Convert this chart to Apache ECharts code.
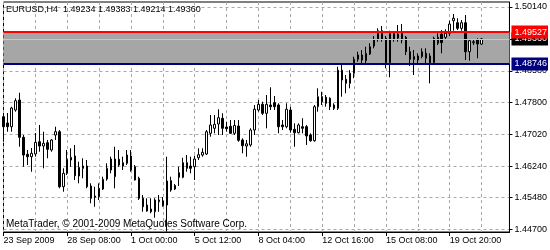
<!DOCTYPE html>
<html><head><meta charset="utf-8">
<script src="https://cdn.jsdelivr.net/npm/echarts@6/dist/echarts.min.js"></script>
<style>html,body{margin:0;padding:0;background:#fff}#c{width:550px;height:250px}</style>
</head><body><div id="c"></div>
<script>
const symbolName = 'EURUSD,H4';
const copyrightText = 'MetaTrader, \u00A9 2001-2009 MetaQuotes Software Corp.';

const opens = [1.47458,1.47304,1.47213,1.47621,1.47866,1.46954,1.46538,1.46480,1.46546,1.46846,
1.46741,1.46822,1.46644,1.47010,1.47091,1.45746,1.46074,1.46399,1.46497,1.46008,
1.46252,1.46252,1.45763,1.45519,1.45502,1.45690,1.45934,1.46423,1.45991,1.46416,
1.46252,1.46318,1.46497,1.46235,1.45952,1.45463,1.45299,1.45201,1.45135,1.45379,
1.45397,1.45299,1.45893,1.45690,1.46089,1.45976,1.46333,1.46252,1.46235,1.46455,
1.46521,1.46546,1.47052,1.47174,1.47279,1.47419,1.47206,1.47223,1.47052,1.47230,
1.46888,1.46741,1.46766,1.47132,1.47621,1.47761,1.47541,1.47744,1.47800,1.47744,
1.47255,1.47213,1.47621,1.47150,1.47066,1.47213,1.47213,1.47010,1.46871,1.47702,
1.47947,1.47932,1.47908,1.47744,1.47663,1.48355,1.48372,1.48274,1.48519,1.48861,
1.48966,1.48827,1.48991,1.49186,1.49350,1.49560,1.49375,1.48778,1.49497,1.49375,
1.49536,1.49399,1.49047,1.48925,1.48844,1.48925,1.49008,1.48942,1.48778,1.49252,
1.49480,1.49399,1.49497,1.49805,1.49756,1.49619,1.49756,1.49047,1.49267,1.49333,
1.49234];
const highs = [1.47499,1.47548,1.47702,1.47908,1.48044,1.47010,1.46643,1.46692,1.47059,1.47255,
1.47091,1.46888,1.46912,1.47213,1.47132,1.46196,1.46643,1.46685,1.46766,1.46357,
1.46441,1.46399,1.45829,1.45746,1.45829,1.45991,1.46318,1.46480,1.46724,1.46643,
1.46480,1.46643,1.46643,1.46277,1.45991,1.45543,1.45463,1.45463,1.45463,1.45543,
1.45494,1.46480,1.45991,1.45812,1.46235,1.46455,1.46521,1.46480,1.46504,1.46685,
1.46685,1.47132,1.47499,1.47499,1.47639,1.47541,1.47335,1.47377,1.47377,1.47377,
1.46930,1.46888,1.47174,1.47744,1.47866,1.47824,1.47988,1.48177,1.47964,1.47785,
1.47377,1.47785,1.47702,1.47296,1.47296,1.47419,1.47255,1.47052,1.47744,1.48152,
1.48069,1.47988,1.47932,1.47785,1.48680,1.48722,1.48477,1.48596,1.48925,1.49047,
1.49088,1.49169,1.49252,1.49431,1.49619,1.49675,1.49431,1.49560,1.49536,1.49700,
1.49724,1.49431,1.49169,1.49088,1.49008,1.49130,1.49130,1.49008,1.49414,1.49497,
1.49577,1.49595,1.49805,1.49969,1.49864,1.49822,1.49944,1.49350,1.49350,1.49375,
1.49383];
const lows = [1.46846,1.47091,1.47091,1.47580,1.46724,1.46235,1.46277,1.46113,1.46480,1.46602,
1.46196,1.46441,1.46602,1.46888,1.45707,1.45624,1.46032,1.46235,1.45910,1.45829,
1.45952,1.45707,1.45340,1.45257,1.45421,1.45665,1.45893,1.46074,1.45707,1.46235,
1.46154,1.46277,1.46113,1.45898,1.45421,1.45135,1.45135,1.45096,1.44988,1.45135,
1.45257,1.44650,1.45624,1.45665,1.45763,1.45952,1.46113,1.46074,1.45910,1.46399,
1.46480,1.46521,1.46969,1.47052,1.47010,1.47010,1.47091,1.47035,1.47010,1.46846,
1.46563,1.46480,1.46724,1.47010,1.47580,1.47499,1.47174,1.47621,1.47621,1.47052,
1.47132,1.47174,1.47066,1.46724,1.47052,1.47052,1.46766,1.46846,1.46846,1.47580,
1.47744,1.47702,1.47621,1.47621,1.47621,1.47947,1.48030,1.48152,1.48397,1.48802,
1.48763,1.48763,1.48966,1.49130,1.49291,1.49291,1.48641,1.48421,1.49291,1.49291,
1.49252,1.48966,1.48697,1.48477,1.48763,1.48886,1.48763,1.48274,1.48763,1.49211,
1.49008,1.49333,1.49431,1.49560,1.49577,1.49560,1.48844,1.48827,1.49211,1.48886,
1.49214];
const closes = [1.47213,1.47213,1.47670,1.47849,1.46954,1.46521,1.46480,1.46563,1.46832,1.46741,
1.46807,1.46661,1.46888,1.47091,1.45746,1.46074,1.46416,1.46465,1.46015,1.46221,
1.46196,1.45746,1.45463,1.45487,1.45707,1.45927,1.46196,1.46154,1.46423,1.46277,
1.46333,1.46521,1.46154,1.45910,1.45463,1.45257,1.45152,1.45135,1.45421,1.45421,
1.45282,1.45886,1.45665,1.45776,1.45976,1.46333,1.46196,1.46196,1.46423,1.46529,
1.46587,1.47091,1.47255,1.47272,1.47433,1.47174,1.47164,1.47052,1.47243,1.46881,
1.46749,1.46795,1.47132,1.47639,1.47761,1.47541,1.47761,1.47702,1.47702,1.47213,
1.47213,1.47639,1.47132,1.47066,1.47255,1.47174,1.46986,1.46871,1.47702,1.47947,
1.47824,1.47785,1.47702,1.47663,1.48596,1.48596,1.48274,1.48519,1.48861,1.48966,
1.48844,1.49008,1.49169,1.49350,1.49560,1.49350,1.48778,1.49497,1.49350,1.49480,
1.49333,1.49047,1.48861,1.48861,1.48942,1.49047,1.48886,1.48778,1.49375,1.49399,
1.49267,1.49497,1.49724,1.49864,1.49619,1.49756,1.49047,1.49316,1.49291,1.49235,
1.49360];

const xTickLabels = ['23 Sep 2009','28 Sep 08:00','1 Oct 00:00','5 Oct 12:00','8 Oct 04:00','12 Oct 16:00','15 Oct 08:00','19 Oct 20:00'];
const xTickEvery = 16;
const xGridEvery = 8;
const slotCount = 128;
const yTickValues = [1.44700,1.45480,1.46240,1.47020,1.47800,1.48580,1.49360,1.50140];
const yMin = 1.44639, yMax = 1.50262;
const bandHigh = 1.49527, bandLow = 1.48746;
const bidPrice = 1.49360;

const FONT = "'Liberation Sans', Arial, sans-serif";
const last = opens.length - 1;
const fmt = v => Number(v).toFixed(5);
const header = symbolName + '  ' + [opens[last], highs[last], lows[last], closes[last]].map(fmt).join(' ');
const categories = Array.from({length: slotCount}, (_, i) => String(i));
const candles = opens.map((o, i) => [o, closes[i], lows[i], highs[i]]);

const chart = echarts.init(document.getElementById('c'), null, {renderer: 'canvas'});
chart.setOption({
  animation: false,
  backgroundColor: '#ffffff',
  title: [
    {text: header, left: 6, top: 5, padding: 0,
     textStyle: {fontSize: 9, fontWeight: 'normal', color: '#000', fontFamily: FONT}},
    {text: copyrightText, left: 6, top: 219, padding: 0,
     textStyle: {fontSize: 10, fontWeight: 'normal', color: '#000', fontFamily: FONT}}
  ],
  grid: {left: 3.5, right: 38.5, top: 2, bottom: 18, show: true, borderColor: '#000', borderWidth: 1, backgroundColor: 'transparent'},
  xAxis: {
    type: 'category', data: categories, boundaryGap: false,
    axisLine: {show: true, lineStyle: {color: '#000', width: 1}},
    axisTick: {show: true, interval: xTickEvery - 1, length: 4, lineStyle: {color: '#000'}},
    axisLabel: {interval: xTickEvery - 1, align: 'left', margin: 4, fontSize: 9, color: '#000', fontFamily: FONT,
      formatter: (v, i) => (i % xTickEvery === 0 ? (xTickLabels[i / xTickEvery] || '') : '')},
    splitLine: {show: true, interval: xGridEvery - 1, lineStyle: {color: '#a8a8a8', width: 1, type: [3, 3]}}
  },
  yAxis: {
    type: 'value', position: 'right', min: yMin, max: yMax,
    axisLine: {show: true, lineStyle: {color: '#000', width: 1}},
    axisTick: {show: true, customValues: yTickValues, length: 3, lineStyle: {color: '#000'}},
    axisLabel: {customValues: yTickValues, formatter: v => fmt(v), margin: 5, fontSize: 9, color: '#000', fontFamily: FONT},
    splitLine: {show: true, lineStyle: {color: '#a8a8a8', width: 1, type: [3, 3]}}
  },
  series: [
    {
      type: 'line', data: [], z: 1, silent: true,
      markArea: {silent: true, precision: 5, itemStyle: {color: '#a6a6a6', opacity: 1},
        data: [[{yAxis: bandLow}, {yAxis: bandHigh}]]},
      markLine: {
        silent: true, symbol: ['none', 'none'], animation: false, precision: 5,
        label: {show: true, position: 'end', distance: 2, formatter: p => fmt(p.value), color: '#fff',
          fontSize: 9, fontFamily: FONT, padding: [2, 1, 1, 3], lineHeight: 10},
        data: [
          {yAxis: bidPrice, lineStyle: {color: '#c8c8c8', width: 1, type: 'solid'}, label: {backgroundColor: '#000'}},
          {yAxis: bandLow, lineStyle: {color: '#000080', width: 2, type: 'solid'}, label: {backgroundColor: '#000080'}},
          {yAxis: bandHigh, lineStyle: {color: '#ff0000', width: 2, type: 'solid'}, label: {backgroundColor: '#ff0000'}}
        ]
      }
    },
    {
      type: 'candlestick', data: candles, z: 3, barWidth: 2,
      itemStyle: {color: '#ffffff', color0: '#000000', borderColor: '#000000', borderColor0: '#000000', borderWidth: 1}
    }
  ]
});
</script>
</body></html>
